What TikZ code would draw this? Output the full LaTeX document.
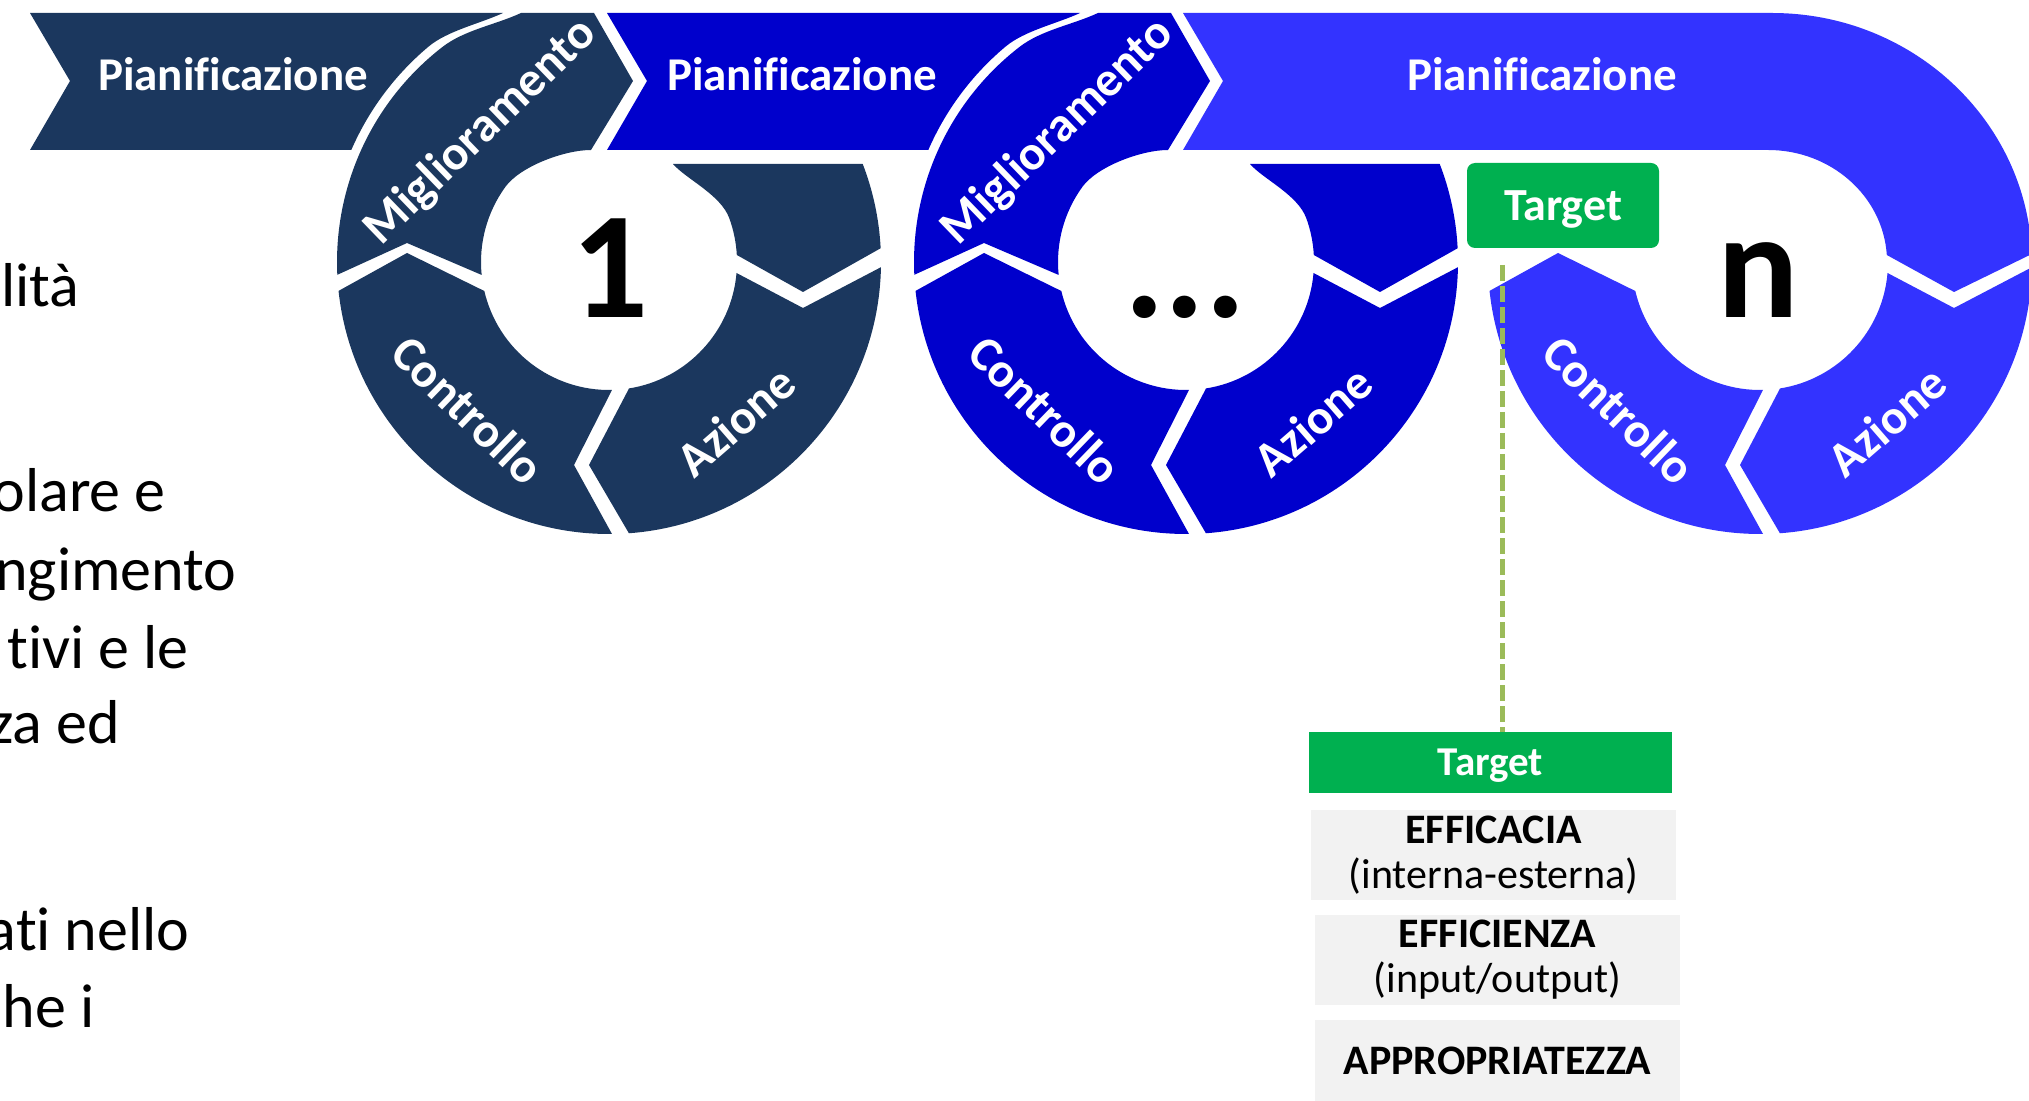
\documentclass[tikz,border=0pt]{standalone}
\usepackage{fontspec}
\setmainfont{Carlito}[Ligatures=NoCommon]
\definecolor{cnavy}{RGB}{27,55,94}
\definecolor{cblue}{RGB}{0,0,204}
\definecolor{clight}{RGB}{51,51,255}
\definecolor{cgreen}{RGB}{0,176,80}
\definecolor{colive}{RGB}{155,187,89}
\definecolor{cgray}{RGB}{242,242,242}
\tikzset{
 seglabel/.style={text=white, font=\fontsize{24.5}{28}\selectfont\bfseries, inner sep=0pt},
 bandlabel/.style={text=white, font=\fontsize{23.5}{28}\selectfont\bfseries, inner sep=0pt, anchor=base},
 bignum/.style={text=black, font=\fontsize{76}{80}\selectfont\bfseries, inner sep=0pt, anchor=base},
 sidetext/.style={text=black, font=\fontsize{31}{36}\selectfont, inner sep=0pt, anchor=base east},
 greenbox/.style={fill=cgreen, text=white, inner sep=0pt, text depth=0pt},
 graybox/.style={fill=cgray, text=black, inner sep=0pt, minimum width=182.5pt, align=center, font=\fontsize{21}{22.5}\selectfont},
 dashline/.style={colive, line width=2.5pt, dash pattern=on 8pt off 2.5pt},
}
% Azione and Controllo segments of a ring
\newcommand{\ringAC}[3]{%
\begin{scope}[shift={(#1,262)}]
\fill[#2] (1.1:272) arc[start angle=1.1,end angle=85.8,radius=272] -- (-20,203) -- (81.0:128) arc[start angle=81.0,end angle=4.93,radius=128] -- (194,46) -- cycle;
\fill[#2] (89.37:272) arc[start angle=89.37,end angle=173.9,radius=272] -- (-202,-9) -- (166.9:128) arc[start angle=166.9,end angle=88.66,radius=128] -- (-35,203) -- cycle;
\node[seglabel, rotate=41] (azione#3) at (127,159) {Azione};
\node[seglabel, rotate=-44] (controllo#3) at (-141,148) {Controllo};
\end{scope}}
% band (Pianificazione) ending at a ring, Miglioramento segment and upper right part of the ring
\newcommand{\ringPM}[3]{%
\begin{scope}[shift={(#1,262)}]
\fill[#2] (-579,-249) -- (-106,-249) .. controls (-128.7,-238.4) and (-161.5,-231.4) .. (230:281) arc[start angle=230,end angle=203.5,radius=281] -- (-579,-112) -- (-539,-181) -- cycle;
\fill[#2] (177.3:272) arc[start angle=177.3,end angle=232.2,radius=272] .. controls (-144.6,-232.1) and (-113.4,-237.2) .. (-88,-249) -- (-15,-249) -- (24,-181) -- (-18,-112) .. controls (-45,-112) and (-88.9,-95.4) .. (216:128) arc[start angle=216,end angle=174.2,radius=128] -- (-202,-19) -- cycle;
\fill[#2] (64,-98) -- (-21.14:272) arc[start angle=-21.14,end angle=-2.9,radius=272] -- (194,30) -- (-3.14:128) arc[start angle=-3.14,end angle=-20,radius=128] .. controls (111.75,-67.3) and (77,-83) .. (64,-98) -- cycle;
\node[seglabel, rotate=44] (miglio#3) at (-128,-130) {Miglioramento};
\end{scope}}
\begin{document}
\begin{tikzpicture}[x=0.5pt,y=-0.5pt]
\useasboundingbox (0,0) rectangle (2029,1101);
\clip (0,0) rectangle (2029,1101);
% cycle 1
\ringPM{609}{cnavy}{1}
\ringAC{609}{cnavy}{1}
% cycle 2
\ringPM{1186}{cblue}{2}
\ringAC{1186}{cblue}{2}
% cycle n
\fill[clight] (1183,13) -- (1772,13) arc[start angle=-90,end angle=-2.28,x radius=260,y radius=251] -- (1954,292) -- (1886.8,255) arc[start angle=-3.58,end angle=-90,x radius=119,y radius=112] -- (1183,150) -- (1223,81) -- cycle;
\ringAC{1760}{clight}{3}
% band labels
\node[bandlabel] (pian1) at (233,91) {Pianificazione};
\node[bandlabel] (pian2) at (802,91) {Pianificazione};
\node[bandlabel] (pian3) at (1542,91) {Pianificazione};
% ring numbers
\node[bignum] (num1) at (610,318) {1};
\node[bignum] (num2) at (1185,318) {...};
\node[bignum] (num3) at (1758,318) {n};
% target
\node[greenbox, rounded corners=4pt, minimum width=96pt, minimum height=42.5pt, font=\fontsize{23}{26}\selectfont\bfseries] (tgt) at (1563,205.5) {Target};
\node[greenbox, minimum width=181.5pt, minimum height=30.5pt, font=\fontsize{20.5}{24}\selectfont\bfseries] (tbar) at (1490.5,762.5) {Target};
\coordinate (dtop) at (1502,265);
\draw[dashline] (dtop) -- (dtop |- tbar.north);
\node[graybox, minimum height=45pt] (eff) at (1493.5,855) {\textbf{EFFICACIA}\\(interna-esterna)};
\node[graybox, minimum height=45pt] (effi) at (1497.5,960) {\textbf{EFFICIENZA}\\(input/output)};
\node[graybox, minimum height=40.5pt] (appr) at (1497.5,1060.5) {\textbf{APPROPRIATEZZA}};
% left text (cut by the frame)
\node[sidetext] (l1) at (80,307) {lità};
\node[sidetext] (l2) at (166,511) {olare e};
\node[sidetext] (l3) at (237,590) {ngimento};
\node[sidetext] (l4) at (189,668) {tivi e le};
\node[sidetext] (l5) at (120,743) {za ed};
\node[sidetext] (l6) at (190,950) {ati nello};
\node[sidetext] (l7) at (95,1027) {he i};
\end{tikzpicture}
\end{document}
